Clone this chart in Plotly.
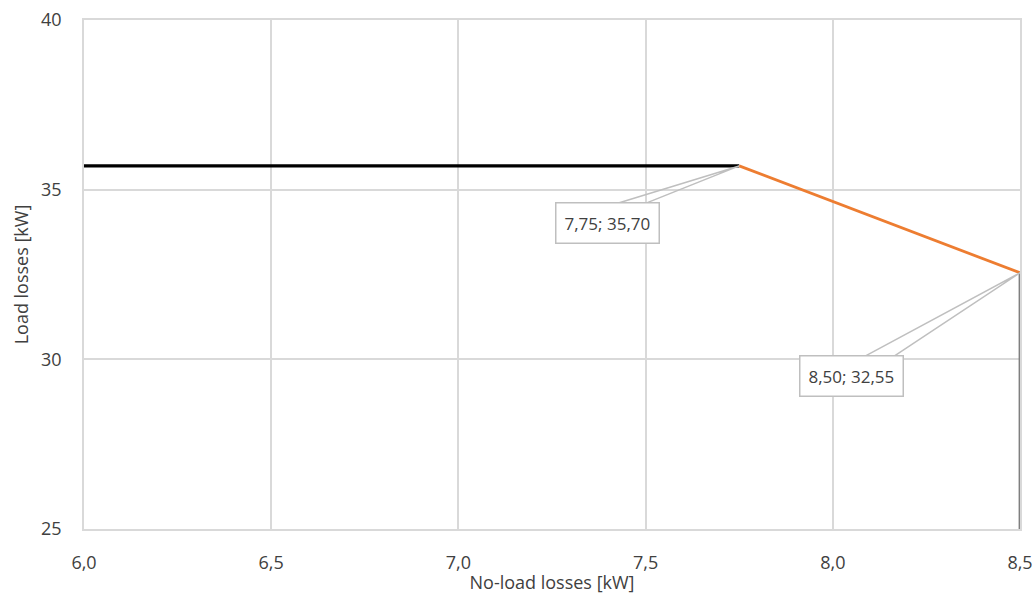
import plotly.graph_objects as go

# Loss values (kW)
flat_x = [6.0, 7.75]
flat_y = [35.70, 35.70]
slope_x = [7.75, 8.50]
slope_y = [35.70, 32.55]
limit_x = [8.50, 8.50]
limit_y = [32.55, 25.0]

labelled_x = [7.75, 8.50]
labelled_y = [35.70, 32.55]

x_range = [6.0, 8.5]
y_range = [25, 40]
x_ticks = [6.0, 6.5, 7.0, 7.5, 8.0, 8.5]
y_ticks = [25, 30, 35, 40]

W, H = 1035, 594
margin = dict(l=84, r=15, t=20, b=65)
px_x = (W - margin["l"] - margin["r"]) / (x_range[1] - x_range[0])
px_y = (H - margin["t"] - margin["b"]) / (y_range[1] - y_range[0])

grid = "#d9d9d9"
txt = "#404040"
font = "Open Sans, Liberation Sans, sans-serif"

fig = go.Figure()
fig.add_trace(go.Scatter(x=flat_x, y=flat_y, mode="lines",
                         line=dict(color="#000000", width=3.2), cliponaxis=False))
fig.add_trace(go.Scatter(x=slope_x, y=slope_y, mode="lines",
                         line=dict(color="#ed7d31", width=2.8), cliponaxis=False))
fig.add_trace(go.Scatter(x=limit_x, y=limit_y, mode="lines",
                         line=dict(color="#7f7f7f", width=2.8), cliponaxis=False))

# callout boxes: (box offset, wedge base offsets) in pixels from the point
callouts = [
    dict(box=(-132, 57), base=((-124, 38), (-95, 38))),
    dict(box=(-169, 103), base=((-160, 86), (-130, 86))),
]
shapes = []
annotations = []
for xv, yv, c in zip(labelled_x, labelled_y, callouts):
    (b1x, b1y), (b2x, b2y) = c["base"]
    p1 = (xv + b1x / px_x, yv - b1y / px_y)
    p2 = (xv + b2x / px_x, yv - b2y / px_y)
    shapes.append(dict(
        type="path", xref="x", yref="y",
        path=f"M {p1[0]},{p1[1]} L {xv},{yv} L {p2[0]},{p2[1]}",
        line=dict(color="#bfbfbf", width=1.5), fillcolor="rgba(0,0,0,0)",
        layer="above"))
    annotations.append(dict(
        x=xv, y=yv, xref="x", yref="y",
        text=f"{xv:.2f}; {yv:.2f}".replace(".", ","),
        showarrow=True, arrowcolor="rgba(0,0,0,0)", arrowwidth=0.1,
        ax=c["box"][0], ay=c["box"][1],
        bgcolor="#ffffff", bordercolor="#bfbfbf", borderwidth=1.5,
        borderpad=8, font=dict(family=font, size=17, color="#404040")))

fig.update_layout(
    width=W, height=H, margin=margin,
    paper_bgcolor="#ffffff", plot_bgcolor="#ffffff",
    showlegend=False, separators=",.",
    font=dict(family=font, size=17, color=txt),
    shapes=shapes, annotations=annotations,
    xaxis=dict(range=x_range, tickvals=x_ticks, tickformat=".1f",
               automargin=False,
               showgrid=True, gridcolor=grid, gridwidth=1.5,
               showline=True, linecolor=grid, linewidth=1.5, mirror=True,
               zeroline=False, ticks="outside", ticklen=17,
               tickcolor="rgba(0,0,0,0)",
               tickfont=dict(size=18, color=txt),
               title=dict(text="No-load losses [kW]", standoff=2,
                          font=dict(size=18, color=txt))),
    yaxis=dict(range=y_range, tickvals=y_ticks,
               automargin=False,
               showgrid=True, gridcolor=grid, gridwidth=1.5,
               showline=True, linecolor=grid, linewidth=1.5, mirror=True,
               zeroline=False, ticks="outside", ticklen=17,
               tickcolor="rgba(0,0,0,0)",
               tickfont=dict(size=18, color=txt),
               title=dict(text="Load losses [kW]", standoff=8,
                          font=dict(size=18, color=txt))),
)

fig.write_html("out.html")
